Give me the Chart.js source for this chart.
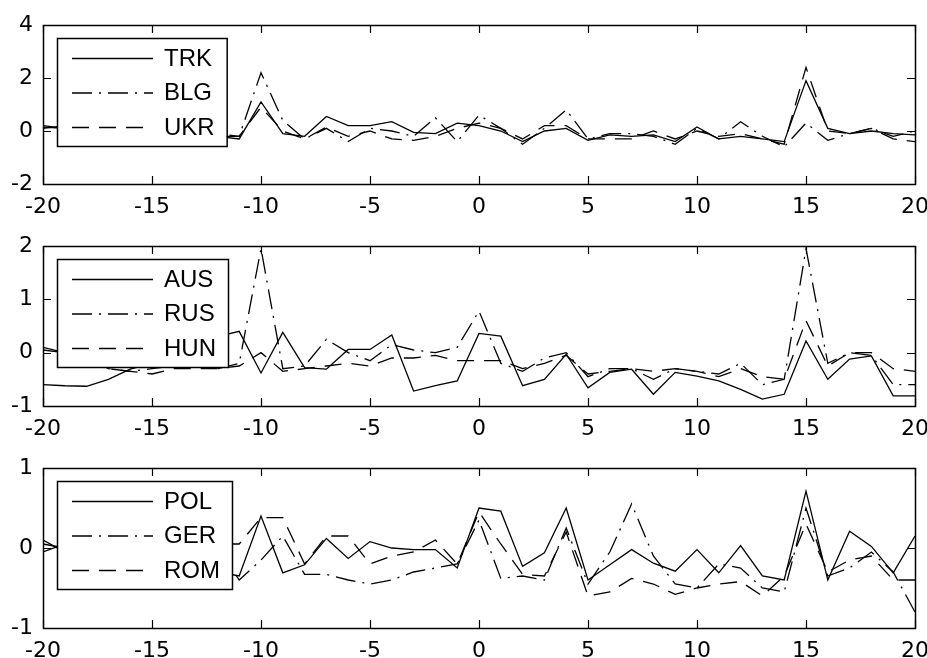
<!DOCTYPE html>
<html>
<head>
<meta charset="utf-8">
<script src="https://cdn.jsdelivr.net/npm/chart.js@4"></script>
<style>
    html, body { margin: 0; padding: 0; background: #fff; overflow: hidden; width: 927px; height: 658px; }
    canvas { position: absolute; left: 0; }
</style>
</head>
<body>
<canvas id="c1" width="939" height="230" style="top:0px"></canvas>
<canvas id="c2" width="939" height="230" style="top:221px"></canvas>
<canvas id="c3" width="939" height="230" style="top:443px"></canvas>
<script>
// Lags on the x axis
const lags = [-20, -19, -18, -17, -16, -15, -14, -13, -12, -11, -10, -9, -8, -7, -6, -5, -4, -3, -2, -1,
    0, 1, 2, 3, 4, 5, 6, 7, 8, 9, 10, 11, 12, 13, 14, 15, 16, 17, 18, 19, 20];
const xTicks = [-20, -15, -10, -5, 0, 5, 10, 15, 20];

// Top panel
const trk = [0.15, 0.1, 0.0, -0.1, 0.1, 0.0, -0.1, 0.0, -0.2, -0.3, 1.1, -0.1, -0.2, 0.55, 0.2, 0.2, 0.35, -0.05, -0.1, 0.3,
    0.2, 0.0, -0.4, 0.0, 0.1, -0.35, -0.15, -0.2, -0.15, -0.4, 0.15, -0.3, -0.2, -0.3, -0.4, 1.9, 0.1, -0.1, 0.0, -0.1, -0.15];
const blg = [0.2, 0.1, 0.2, 0.0, 0.1, -0.1, 0.0, -0.1, -0.2, -0.2, 2.2, 0.4, -0.3, 0.1, -0.4, 0.1, 0.0, -0.2, 0.5, -0.4,
    0.6, 0.1, -0.5, 0.1, 0.8, -0.3, -0.1, -0.1, -0.2, -0.5, 0.1, -0.3, 0.35, -0.2, -0.6, 0.3, -0.35, -0.1, 0.1, -0.2, 0.0];
const ukr = [0.1, 0.2, 0.0, 0.1, -0.1, 0.0, 0.1, -0.1, -0.1, -0.2, 0.9, 0.0, -0.3, 0.15, -0.2, 0.0, -0.3, -0.35, -0.2, 0.1,
    0.3, 0.1, -0.3, 0.2, 0.2, -0.3, -0.3, -0.3, 0.0, -0.3, 0.0, -0.2, -0.1, -0.3, -0.5, 2.4, 0.0, -0.1, 0.1, -0.3, -0.4];

// Middle panel
const aus = [-0.6, -0.62, -0.63, -0.5, -0.31, -0.2, -0.05, 0.1, 0.3, 0.4, -0.38, 0.38, -0.28, -0.31, 0.06, 0.06, 0.33, -0.72, -0.62, -0.53,
    0.36, 0.31, -0.62, -0.5, -0.03, -0.66, -0.37, -0.31, -0.78, -0.37, -0.44, -0.53, -0.69, -0.87, -0.78, 0.22, -0.5, -0.12, -0.06, -0.81, -0.81];
const rus = [0.1, 0.0, -0.2, -0.3, -0.35, -0.3, -0.25, -0.2, -0.3, -0.2, 1.95, -0.3, -0.25, 0.25, 0.0, -0.15, 0.15, 0.05, 0.0, 0.1,
    0.78, -0.2, -0.35, -0.1, 0.0, -0.45, -0.3, -0.3, -0.5, -0.3, -0.35, -0.4, -0.2, -0.6, -0.5, 1.95, -0.2, 0.0, -0.05, -0.6, -0.6];
const hun = [0.05, 0.0, -0.1, -0.3, -0.35, -0.4, -0.3, -0.3, -0.3, -0.25, 0.0, -0.35, -0.3, -0.25, -0.2, -0.25, -0.1, -0.1, -0.05, -0.15,
    -0.15, -0.15, -0.3, -0.2, -0.05, -0.4, -0.35, -0.3, -0.35, -0.3, -0.35, -0.45, -0.3, -0.45, -0.5, 0.6, -0.25, 0.0, 0.0, -0.3, -0.35];

// Bottom panel
const pol = [0.05, 0.0, -0.05, -0.1, 0.0, -0.1, -0.1, -0.2, -0.3, -0.35, 0.4, -0.31, -0.21, 0.12, -0.13, 0.08, 0.0, -0.02, -0.02, -0.25,
    0.5, 0.46, -0.23, -0.06, 0.5, -0.4, -0.21, -0.02, -0.19, -0.29, -0.02, -0.31, 0.03, -0.35, -0.4, 0.71, -0.4, 0.21, 0.02, -0.31, 0.15];
const ger = [0.1, -0.05, 0.0, 0.05, -0.1, 0.0, -0.05, 0.0, 0.0, -0.4, -0.15, 0.15, -0.33, -0.33, -0.4, -0.45, -0.4, -0.3, -0.25, -0.2,
    0.35, -0.38, -0.35, -0.4, 0.25, -0.45, -0.05, 0.55, -0.1, -0.45, -0.5, -0.2, -0.25, -0.5, -0.55, 0.5, -0.35, -0.25, -0.05, -0.3, -0.8];
const rom = [-0.05, 0.05, 0.0, -0.1, 0.0, 0.05, -0.05, 0.0, 0.05, 0.05, 0.38, 0.38, -0.2, 0.15, 0.15, -0.2, -0.1, -0.05, 0.1, -0.2,
    0.45, 0.05, -0.33, -0.35, 0.2, -0.6, -0.55, -0.38, -0.45, -0.58, -0.5, -0.45, -0.42, -0.6, -0.35, 0.3, -0.3, -0.15, -0.1, -0.4, -0.4];

const lineStyles = [[], [20, 7, 2, 7], [17, 10]];
const TICK_FONT = '"DejaVu Sans", Verdana, sans-serif';
const LEGEND_FONT = '"Liberation Sans", Arial, sans-serif';

// Box round the axes with inward ticks on all four sides, plus boxed legend
const matlabAxes = {
    id: 'matlabAxes',
    afterDatasetsDraw(chart) {
        const ctx = chart.ctx;
        const a = chart.chartArea;
        const xs = chart.scales.x, ys = chart.scales.y;
        ctx.save();

        // legend
        ctx.font = '24px ' + LEGEND_FONT;
        const names = chart.data.datasets.map(d => d.label);
        const textW = Math.max(...names.map(n => ctx.measureText(n).width));
        const lx = Math.round(a.left) + 14, ly = Math.round(a.top) + 13;
        const lw = 107 + textW + 12, lh = 108;
        ctx.fillStyle = '#fff';
        ctx.fillRect(lx, ly, lw, lh);
        ctx.strokeStyle = '#000';
        ctx.lineWidth = 1.5;
        ctx.strokeRect(lx + 0.5, ly + 0.5, lw, lh);
        ctx.lineWidth = 1.3;
        chart.data.datasets.forEach((d, i) => {
            const cy = ly + 20 + i * 34.5;
            ctx.setLineDash(d.borderDash);
            ctx.beginPath();
            ctx.moveTo(lx + 15, cy + 0.5);
            ctx.lineTo(lx + 96, cy + 0.5);
            ctx.stroke();
            ctx.setLineDash([]);
            ctx.fillStyle = '#000';
            ctx.textBaseline = 'middle';
            ctx.fillText(d.label, lx + 107, cy + 1);
        });

        // axes box
        ctx.lineWidth = 1.5;
        ctx.strokeRect(Math.round(a.left) + 0.5, Math.round(a.top) + 0.5,
            Math.round(a.right - a.left), Math.round(a.bottom - a.top));
        ctx.lineWidth = 1.2;
        ctx.beginPath();
        xs.ticks.forEach(t => {
            const px = Math.round(xs.getPixelForValue(t.value)) + 0.5;
            ctx.moveTo(px, a.top); ctx.lineTo(px, a.top + 8);
            ctx.moveTo(px, a.bottom); ctx.lineTo(px, a.bottom - 8);
        });
        ys.ticks.forEach(t => {
            const py = Math.round(ys.getPixelForValue(t.value)) + 0.5;
            ctx.moveTo(a.left, py); ctx.lineTo(a.left + 8, py);
            ctx.moveTo(a.right, py); ctx.lineTo(a.right - 8, py);
        });
        ctx.stroke();
        ctx.restore();
    }
};

function makePanel(canvasId, names, series, yMin, yMax, yStep, plotBottom) {
    const ctx = document.getElementById(canvasId).getContext('2d');
    return new Chart(ctx, {
        type: 'line',
        data: {
            datasets: series.map((vals, i) => ({
                label: names[i],
                data: lags.map((x, j) => ({ x: x, y: vals[j] })),
                borderColor: '#000',
                borderWidth: 1.3,
                borderDash: lineStyles[i],
                pointRadius: 0,
                tension: 0,
                fill: false
            }))
        },
        options: {
            responsive: false,
            animation: false,
            devicePixelRatio: 1,
            layout: { padding: { top: 25, right: 14, left: 0, bottom: 0 } },
            plugins: { legend: { display: false }, tooltip: { enabled: false } },
            scales: {
                x: {
                    type: 'linear',
                    min: -20,
                    max: 20,
                    afterBuildTicks: s => { s.ticks = xTicks.map(v => ({ value: v })); },
                    afterFit: s => { s.height = 230 - plotBottom; },
                    grid: { display: false, drawTicks: false },
                    border: { display: false },
                    ticks: { color: '#000', padding: 10, maxRotation: 0, autoSkip: false, font: { family: TICK_FONT, size: 22 } }
                },
                y: {
                    min: yMin,
                    max: yMax,
                    afterFit: s => { s.width = 43; },
                    grid: { display: false, drawTicks: false },
                    border: { display: false },
                    ticks: { color: '#000', padding: 10, stepSize: yStep, font: { family: TICK_FONT, size: 22 } }
                }
            }
        },
        plugins: [matlabAxes]
    });
}

makePanel('c1', ['TRK', 'BLG', 'UKR'], [trk, blg, ukr], -2, 4, 2, 184);
makePanel('c2', ['AUS', 'RUS', 'HUN'], [aus, rus, hun], -1, 2, 1, 185);
makePanel('c3', ['POL', 'GER', 'ROM'], [pol, ger, rom], -1, 1, 1, 185);
</script>
</body>
</html>
